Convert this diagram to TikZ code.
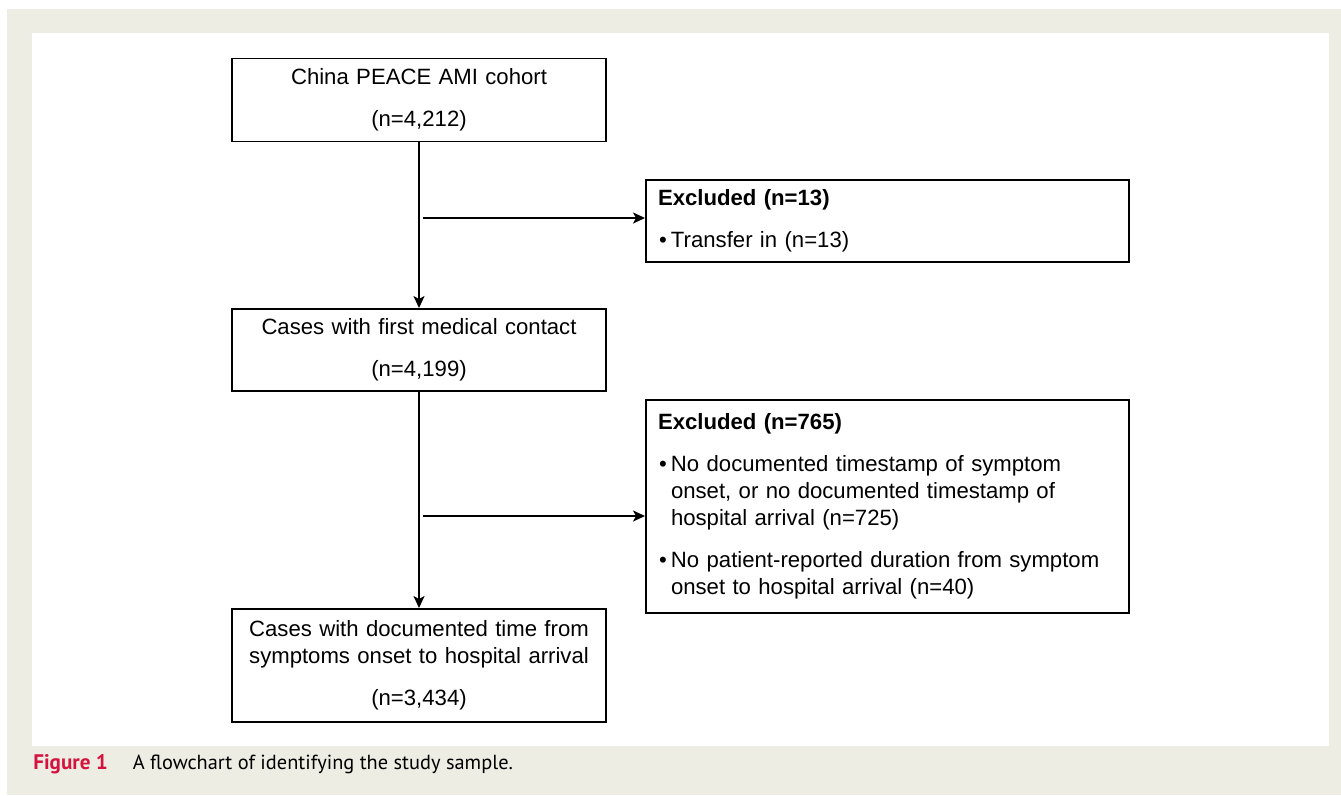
\documentclass[tikz,border=0pt]{standalone}
\usepackage{xcolor}
\usepackage{fontspec}
\setmainfont{Liberation Sans}
\newfontfamily\capfont{PT Sans}
\usepackage{tikz}
\usetikzlibrary{shapes.geometric, arrows, arrows.meta}
\definecolor{pagegray}{HTML}{EEEDE3}
\definecolor{figred}{HTML}{D4143F}
\newcommand{\bulletmark}{\makebox[0.26cm][l]{\hspace{0.02cm}\textbullet}}
\newcommand{\bulletgap}{\hspace*{0.26cm}}
\tikzstyle{stage} = [rectangle, 
minimum width=7.48cm, 
minimum height=1.64cm,
text centered, 
text width=7.2cm,
inner sep=0pt,
line width=1.1pt,
draw=black]
\tikzstyle{excluded} = [rectangle, 
minimum width=9.66cm, 
minimum height=1.64cm, 
text width=9.18cm, 
align=left,
inner xsep=0.24cm,
line width=1.1pt,
draw=black]
\tikzstyle{arrow} = [line width=1.1pt,->,>={Stealth[length=0.24cm, width=0.22cm, inset=0.06cm]}]
\begin{document}
\begin{tikzpicture}[node distance=2cm, font=\fontsize{12.6}{15.4}\selectfont]
\useasboundingbox (0,0) rectangle (26.82,-15.9);
\fill[white] (0,0) rectangle (26.82,-15.9);
\fill[pagegray] (0.14,-0.18) rectangle (26.82,-15.9);
\fill[white] (0.64,-0.66) rectangle (26.58,-14.92);

\node (cohort) [stage, xshift=8.38cm, yshift=-2.0cm, minimum height=1.66cm] {China PEACE AMI cohort\\[8.5pt](n=4,212)};
\node (contact) [stage, below of=cohort, yshift=-3.0cm] {Cases with first medical contact\\[8.5pt](n=4,199)};
\node (timed) [stage, below of=contact, yshift=-4.31cm, minimum height=2.26cm] {Cases with documented time from\\symptoms onset to hospital arrival\\[8.5pt](n=3,434)};
\node (excl1) [excluded, right of=cohort, xshift=7.37cm, yshift=-2.42cm] {\textbf{Excluded (n=13)}\\[8.5pt]\bulletmark Transfer in (n=13)};
\node (excl2) [excluded, below of=excl1, yshift=-3.71cm, minimum height=4.26cm] {\textbf{Excluded (n=765)}\\[8.5pt]
\bulletmark No documented timestamp of symptom\\
\bulletgap onset, or no documented timestamp of\\
\bulletgap hospital arrival (n=725)\\[8.5pt]
\bulletmark No patient-reported duration from symptom\\
\bulletgap onset to hospital arrival (n=40)};
\node (caption) [anchor=west, inner sep=0pt, xshift=0.66cm, yshift=-15.28cm, font=\capfont\fontsize{11.6}{14}\selectfont] {{\color{figred}\fontsize{12}{14}\selectfont\bfseries Figure 1}\hspace{0.5cm}A flowchart of identifying the study sample.};

\coordinate (split1) at (8.46,-4.36);
\coordinate (split2) at (8.46,-10.32);

\draw [arrow] (cohort) -- (contact);
\draw [arrow] (contact) -- (timed);
\draw [arrow] (split1) -- (split1 -| excl1.west);
\draw [arrow] (split2) -- (split2 -| excl2.west);

\end{tikzpicture}
\end{document}
